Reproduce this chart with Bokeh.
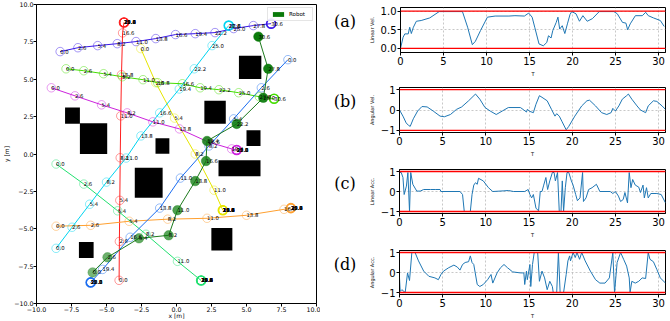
from bokeh.plotting import figure
from bokeh.layouts import row, column
from bokeh.models import Range1d, FixedTicker, Span, Label, Legend, LegendItem
from bokeh.embed import file_html
from bokeh.resources import INLINE
from bokeh.core.properties import value

# ---------------- trajectory data (left panel) ----------------
time_labels = ["0.0", "2.6", "5.4", "8.2", "11.0", "13.8", "16.6", "19.4", "22.2", "25.0", "27.8", "30.6"]

red_x = [-4.10, -4.08, -4.05, -4.02, -3.98, -3.93, -3.85, -3.75, -3.75, -3.75, -3.75, -3.75]
red_y = [-8.45, -5.85, -3.10, -0.25, 2.55, 5.30, 8.10, 8.80, 8.80, 8.80, 8.80, 8.80]

orange_x = [-8.60, -6.13, -3.38, -0.63, 2.18, 5.00, 7.68, 8.17, 8.17, 8.17, 8.17, 8.17]
orange_y = [-4.83, -4.77, -4.50, -4.36, -4.30, -4.10, -3.70, -3.62, -3.62, -3.62, -3.62, -3.62]

yellow_x = [-2.55, -1.48, -0.14, 1.34, 2.68, 3.31, 3.31, 3.31, 3.31, 3.31, 3.31, 3.31]
yellow_y = [7.05, 4.77, 2.40, 0.00, -2.42, -3.76, -3.76, -3.76, -3.76, -3.76, -3.76, -3.76]

lime_x = [-7.89, -6.62, -5.21, -3.87, -2.39, -1.34, 0.42, 1.69, 3.03, 4.44, 5.92, 6.97]
lime_y = [5.70, 5.57, 5.37, 5.17, 4.97, 4.77, 4.70, 4.43, 4.30, 4.10, 3.83, 3.70]

spring_x = [-8.60, -6.62, -4.20, -2.18, 0.07, 1.76, 1.76, 1.76, 1.76, 1.76, 1.76, 1.76]
spring_y = [-0.67, -2.01, -3.80, -5.37, -7.18, -8.46, -8.46, -8.46, -8.46, -8.46, -8.46, -8.46]

cyan_x = [-8.60, -7.46, -6.20, -5.00, -3.60, -2.54, -1.20, 0.20, 1.27, 2.54, 3.73, 3.73]
cyan_y = [-6.31, -4.90, -3.36, -1.88, -0.27, 1.21, 2.75, 4.35, 5.70, 7.25, 8.59, 8.59]

azure_x = [7.96, 6.06, 4.08, 2.32, 0.28, -1.20, -3.31, -5.28, -6.13, -6.13, -6.13, -6.13]
azure_y = [6.31, 4.43, 2.35, 0.54, -1.61, -3.62, -5.57, -7.72, -8.59, -8.59, -8.59, -8.59]

violet_x = [-8.31, -7.04, -5.63, -4.23, -2.89, -1.48, -0.07, 1.34, 2.75, 4.08, 5.49, 6.76]
violet_y = [6.85, 7.11, 7.25, 7.38, 7.52, 7.72, 7.99, 8.05, 8.12, 8.39, 8.59, 8.72]

magenta_x = [-8.94, -7.25, -5.35, -3.52, -1.69, 0.21, 2.25, 3.94, 4.30, 4.30, 4.30, 4.30]
magenta_y = [4.43, 3.89, 3.29, 2.75, 2.15, 1.68, 0.81, 0.34, 0.27, 0.27, 0.27, 0.27]

robot_x = [-5.99, -4.93, -2.68, -0.56, 0.07, 1.34, 2.11, 2.18, 4.30, 6.20, 6.55, 5.85]
robot_y = [-7.92, -6.91, -5.64, -5.44, -3.76, -1.81, -0.47, 0.87, 2.01, 3.76, 5.70, 7.85]

obst_left = [-7.96, -6.90, -1.50, 4.46, 1.99, 5.00, 3.00, -2.98, -6.97, 2.49]
obst_right = [-6.90, -4.95, -0.51, 6.06, 3.52, 6.00, 6.00, -0.99, -5.92, 3.99]
obst_bottom = [2.03, 0.00, 0.02, 5.01, 2.03, 0.54, -1.48, -2.93, -6.96, -6.46]
obst_top = [3.11, 2.05, 1.05, 6.58, 3.56, 1.59, -0.42, -0.92, -5.89, -4.95]

pos_ticks = [-10, -7.5, -5, -2.5, 0, 2.5, 5, 7.5, 10]
pos_tick_labels = ["\u221210.0", "\u22127.5", "\u22125.0", "\u22122.5", "0.0", "2.5", "5.0", "7.5", "10.0"]

# ---------------- time series data (right panels) ----------------
lin_vel = [(0.0, 0.0), (0.3, 0.3), (0.5, 0.39), (0.9, 0.39), (1.07, 0.57), (1.26, 0.4), (1.5, 0.57),
           (1.84, 0.73), (2.4, 0.75), (3.4, 0.82), (4.5, 0.99), (7.2, 0.99), (7.8, 0.57), (8.35, 0.1),
           (8.7, 0.19), (9.3, 0.48), (10.1, 0.84), (11.0, 0.87), (12.6, 0.87), (13.3, 0.88), (14.4, 0.87),
           (14.9, 0.95), (15.3, 0.84), (15.6, 0.57), (16.1, 0.12), (16.6, 0.07), (17.0, 0.16), (17.2, 0.34),
           (17.5, 0.28), (17.7, 0.48), (18.1, 0.7), (18.3, 0.84), (18.5, 0.52), (18.8, 0.61), (19.1, 0.4),
           (19.4, 0.66), (19.7, 0.91), (19.9, 0.99), (20.4, 0.93), (20.8, 0.73), (21.2, 0.88), (21.7, 0.73),
           (22.3, 0.8), (23.1, 0.99), (24.8, 0.99), (25.2, 0.93), (25.8, 0.7), (26.2, 0.68), (26.4, 0.5),
           (26.7, 0.66), (27.3, 0.88), (28.1, 0.88), (28.5, 0.97), (28.8, 0.88), (29.4, 0.82), (30.2, 0.75),
           (30.65, 0.59)]

ang_vel = [(0.0, 0.0), (0.4, -0.3), (0.77, -0.63), (1.04, -0.75), (1.24, -0.8), (1.6, -0.43), (2.1, -0.05),
           (2.6, 0.17), (3.2, 0.15), (3.9, -0.05), (4.7, -0.3), (5.2, -0.33), (5.9, -0.22), (6.6, 0.03),
           (7.2, 0.15), (8.0, 0.45), (8.8, 0.78), (9.3, 0.53), (9.9, 0.12), (10.5, -0.05), (11.2, -0.22),
           (11.9, -0.05), (12.6, 0.12), (14.0, 0.12), (14.4, 0.0), (14.7, -0.1), (14.8, 0.03), (15.1, -0.07),
           (15.5, -0.13), (15.8, 0.28), (16.2, 0.7), (16.5, 0.62), (17.1, 0.45), (17.6, 0.03), (18.0, -0.3),
           (18.2, -0.18), (18.5, -0.3), (18.8, -0.55), (19.3, -0.97), (19.6, -0.8), (20.3, -0.3), (21.1, 0.2),
           (21.7, 0.45), (22.0, 0.48), (22.7, 0.2), (23.4, -0.13), (24.0, -0.22), (24.5, -0.13), (24.7, 0.08),
           (25.0, -0.05), (25.4, 0.2), (25.8, 0.53), (26.3, 0.7), (26.5, 0.78), (26.9, 0.53), (27.5, 0.2),
           (27.9, 0.0), (28.5, -0.13), (28.8, 0.2), (29.4, 0.45), (29.8, 0.42), (30.4, 0.2), (30.8, 0.03)]

lin_acc = [(0.0, 0.95), (0.2, 0.95), (0.4, 0.7), (0.54, -0.15), (0.8, 0.27), (0.97, 0.95), (1.16, -1.0),
           (1.3, 0.95), (1.54, 0.36), (2.0, 0.02), (2.4, 0.02), (2.8, 0.1), (3.6, 0.1), (4.2, 0.1), (4.7, 0.1),
           (4.8, 0.0), (7.0, 0.0), (7.3, -0.15), (7.5, -1.0), (8.2, -1.0), (8.4, -0.15), (8.6, 0.32),
           (8.8, 0.44), (9.0, 0.36), (9.15, 0.66), (9.7, 0.53), (10.3, 0.19), (10.8, 0.0), (12.0, 0.03),
           (12.6, 0.05), (13.2, 0.0), (14.5, 0.0), (14.9, 0.1), (15.1, -0.15), (15.3, -0.32), (15.5, -0.15),
           (15.8, -0.83), (16.1, -0.97), (16.3, 0.0), (16.5, 0.0), (16.7, 0.32), (16.95, 0.7), (17.15, 0.1),
           (17.4, 0.53), (17.7, 0.95), (17.9, 0.95), (18.05, 0.53), (18.3, 0.95), (18.5, -1.0), (18.7, -1.0),
           (18.85, 0.53), (19.0, -1.0), (19.2, 0.19), (19.4, 0.95), (19.6, 0.95), (19.9, 0.53), (20.1, 0.32),
           (20.4, -0.15), (20.6, -0.46), (20.9, -0.32), (21.2, 0.95), (21.3, -0.5), (21.6, -0.32), (21.9, 0.1),
           (22.3, 0.19), (22.8, 0.36), (23.2, 0.0), (24.4, 0.0), (24.7, -0.1), (25.0, 0.0), (25.35, -0.23),
           (25.6, -0.5), (25.9, -0.4), (26.1, -0.05), (26.4, -0.57), (26.6, 0.95), (26.8, 0.19), (27.0, 0.6),
           (27.3, 0.32), (27.7, 0.22), (27.9, -0.05), (28.2, 0.32), (28.35, -0.32), (28.6, 0.19), (28.8, -0.32),
           (29.1, -0.1), (29.8, -0.1), (30.3, -0.15), (30.8, -0.57)]

ang_acc = [(0.0, -0.27), (0.08, -0.95), (0.27, -0.86), (0.66, -1.0), (0.93, -0.02), (1.16, -0.4), (1.43, 1.0),
           (1.8, 1.0), (2.2, 0.58), (2.8, 0.07), (3.4, -0.19), (4.1, -0.27), (4.5, -0.36), (4.8, -0.1),
           (5.1, 0.07), (5.7, 0.24), (6.3, 0.37), (6.7, 0.27), (7.0, 0.12), (7.3, 0.4), (7.6, 0.5), (8.0, 0.54),
           (8.2, 0.83), (8.4, 0.5), (8.6, 0.4), (9.0, -0.6), (9.3, -0.7), (9.7, -0.6), (10.2, -0.36),
           (10.6, -0.1), (10.8, -0.53), (11.3, -0.02), (11.7, 0.24), (12.1, 0.4), (12.5, 0.24), (13.1, 0.03),
           (14.0, -0.02), (14.4, -0.02), (14.5, -0.6), (14.7, 0.07), (14.8, -0.36), (15.1, 0.4), (15.2, -0.7),
           (15.4, 0.4), (15.6, 1.0), (16.0, 1.0), (16.2, -0.44), (16.5, 0.07), (16.8, -0.27), (17.1, -0.86),
           (17.4, -0.44), (17.7, -0.7), (17.8, -1.0), (18.2, -1.0), (18.4, 1.0), (18.6, -1.0), (19.0, -1.0),
           (19.3, -0.1), (19.5, 0.58), (19.7, 0.83), (19.8, 0.58), (20.1, 1.0), (20.35, 0.75), (20.55, 1.0),
           (20.85, 0.66), (21.1, 1.0), (21.5, 0.58), (22.1, 0.07), (22.7, -0.36), (23.2, -0.53), (23.8, -0.53),
           (24.3, -0.27), (24.7, 1.0), (24.9, -1.0), (25.2, 0.5), (25.6, 1.0), (25.95, 0.66), (26.3, 0.32),
           (26.6, -0.27), (26.7, -1.0), (26.9, -0.44), (27.3, -0.53), (27.7, -0.44), (28.1, -0.27),
           (28.5, -0.3), (28.8, 1.0), (29.0, 0.66), (29.4, 0.54), (29.8, 0.15), (30.2, -0.27), (30.8, -0.53)]

time_ticks = [0, 5, 10, 15, 20, 25, 30]
unit_ticks = [-1, 0, 1]
unit_tick_labels = ["\u22121", "0", "1"]
vel_ticks = [0.0, 0.5, 1.0]
vel_tick_labels = ["0.0", "0.5", "1.0"]

FONT = "DejaVu Sans"

# ---------------- left panel ----------------
left = figure(width=320, height=321, x_range=Range1d(-10, 10), y_range=Range1d(-10, 10),
              output_backend="svg", toolbar_location=None,
              min_border_left=32, min_border_right=4, min_border_top=4, min_border_bottom=16)
left.grid.visible = False
left.outline_line_color = "black"
left.outline_line_width = 1
for ax, lab in ((left.xaxis, "x [m]"), (left.yaxis, "y [m]")):
    ax.ticker = FixedTicker(ticks=pos_ticks)
    ax.major_label_overrides = {t: s for t, s in zip(pos_ticks, pos_tick_labels)}
    ax.minor_tick_line_color = None
    ax.major_tick_in = 0
    ax.major_tick_out = 3
    ax.major_label_text_font = FONT
    ax.major_label_text_font_size = "6.3px"
    ax.major_label_text_color = "black"
    ax.major_label_standoff = 0
    ax.axis_label = lab
    ax.axis_label_text_font = FONT
    ax.axis_label_text_font_size = "6px"
    ax.axis_label_text_color = "black"
    ax.axis_label_text_font_style = "normal"
    ax.axis_line_color = "black"
    ax.major_tick_line_color = "black"
left.xaxis.axis_label_standoff = -3
left.yaxis.axis_label_standoff = 1

left.quad(left=obst_left, right=obst_right, bottom=obst_bottom, top=obst_top,
          fill_color="black", line_color=None)

agents = [
    (red_x, red_y, "#ff2020"),
    (orange_x, orange_y, "#ffa030"),
    (yellow_x, yellow_y, "#e6e600"),
    (lime_x, lime_y, "#44dd00"),
    (spring_x, spring_y, "#22e070"),
    (cyan_x, cyan_y, "#00d4f0"),
    (azure_x, azure_y, "#1a6cf0"),
    (violet_x, violet_y, "#3a18e8"),
    (magenta_x, magenta_y, "#cc22dd"),
]

for xs, ys, col in agents:
    left.line(xs, ys, line_color=col, line_width=1)
for xs, ys, col in agents:
    left.scatter(xs, ys, size=8.5, fill_color=None, line_color=col, line_alpha=0.45, line_width=1)
    left.scatter(xs[-1:], ys[-1:], size=9, fill_color=None, line_color=col, line_alpha=1.0, line_width=1.6)

left.line(robot_x, robot_y, line_color="#1e7a1e", line_width=1)
n = len(robot_x)
robot_alpha = [0.55 + 0.45 * i / (n - 1) for i in range(n)]
left.scatter(robot_x, robot_y, size=9.5, fill_color="#0a7a0a", fill_alpha=robot_alpha,
             line_color="#0a7a0a", line_alpha=robot_alpha, line_width=0.5)

for xs, ys, col in agents + [(robot_x, robot_y, "#0a7a0a")]:
    left.text(xs, ys, text=time_labels, text_font=value(FONT), text_font_size=value("5.3px"),
              text_align="left", text_baseline="alphabetic", text_color="black")

# zero-area patch (built from the robot data) used only as the legend swatch
legend_patch = left.quad(left=robot_x[:1], right=robot_x[:1], bottom=robot_y[:1], top=robot_y[:1],
                         fill_color="#0a7a0a", line_color=None)
legend = Legend(items=[LegendItem(label="Robot", renderers=[legend_patch])], location="top_right",
                label_text_font=FONT, label_text_font_size="5.5px", label_text_color="black",
                glyph_width=14, glyph_height=6, label_height=6, label_standoff=4, padding=3, margin=3,
                spacing=0, border_line_color="#cccccc", border_line_width=0.8, background_fill_alpha=0.9)
left.add_layout(legend)

# ---------------- right panels ----------------
def tag_panel(tag, height, cy):
    f = figure(width=45, height=height, x_range=Range1d(0, 45), y_range=Range1d(0, height),
               x_axis_location=None, y_axis_location=None, output_backend="svg", toolbar_location=None,
               min_border=0, outline_line_color=None)
    f.grid.visible = False
    f.add_layout(Label(x=24.5, y=height - cy, x_units="data", y_units="data", text=tag,
                       text_font="DejaVu Serif", text_font_size="16px", text_align="center",
                       text_baseline="middle", text_color="black"))
    return f


def ts_panel(points, ylo, yhi, ticks, tick_labels, limits, ylabel, height, top, bottom):
    t = [a for a, b in points]
    v = [b for a, b in points]
    p = figure(width=305, height=height, x_range=Range1d(0, 30.8), y_range=Range1d(ylo, yhi),
               output_backend="svg", toolbar_location=None,
               min_border_left=32, min_border_right=5, min_border_top=top, min_border_bottom=bottom)
    p.outline_line_color = "black"
    p.outline_line_width = 1
    p.grid.grid_line_color = "#b0b0b0"
    p.grid.grid_line_dash = "2 2"
    p.grid.grid_line_width = 0.7
    p.xaxis.ticker = FixedTicker(ticks=time_ticks)
    p.yaxis.ticker = FixedTicker(ticks=ticks)
    p.yaxis.major_label_overrides = {k: s for k, s in zip(ticks, tick_labels)}
    for ax in (p.xaxis, p.yaxis):
        ax.minor_tick_line_color = None
        ax.major_tick_in = 0
        ax.major_tick_out = 3
        ax.major_tick_line_color = "black"
        ax.axis_line_color = "black"
        ax.major_label_text_font = FONT
        ax.major_label_text_font_size = "10px"
        ax.major_label_text_color = "black"
        ax.major_label_standoff = 1
        ax.axis_label_text_font = FONT
        ax.axis_label_text_font_size = "5px"
        ax.axis_label_text_color = "black"
        ax.axis_label_text_font_style = "normal"
        ax.axis_label_standoff = 3
    p.xaxis.axis_label = "T"
    p.yaxis.axis_label = ylabel
    for lim in limits:
        p.add_layout(Span(location=lim, dimension="width", line_color="#ff0000", line_width=1.3))
    p.line(t, v, line_color="#1f77b4", line_width=1)
    return p

pa = ts_panel(lin_vel, -0.11, 1.1, vel_ticks, vel_tick_labels, [0.0, 1.0], "Linear Vel.", 80, 7, 28)
pb = ts_panel(ang_vel, -1.1, 1.1, unit_ticks, unit_tick_labels, [-1.0, 1.0], "Angular Vel.", 81, 7, 29)
pc = ts_panel(lin_acc, -1.1, 1.1, unit_ticks, unit_tick_labels, [-1.0, 1.0], "Linear Acc.", 80, 8, 28)
pd = ts_panel(ang_acc, -1.1, 1.1, unit_ticks, unit_tick_labels, [-1.0, 1.0], "Angular Acc.", 80, 9, 27)

right = column(
    row(tag_panel("(a)", 80, 24.5), pa, spacing=0),
    row(tag_panel("(b)", 81, 24.5), pb, spacing=0),
    row(tag_panel("(c)", 80, 25), pc, spacing=0),
    row(tag_panel("(d)", 80, 25), pd, spacing=0),
    spacing=0,
)

layout = row(left, right, spacing=0)

open("out.html", "w").write(file_html(layout, INLINE))
